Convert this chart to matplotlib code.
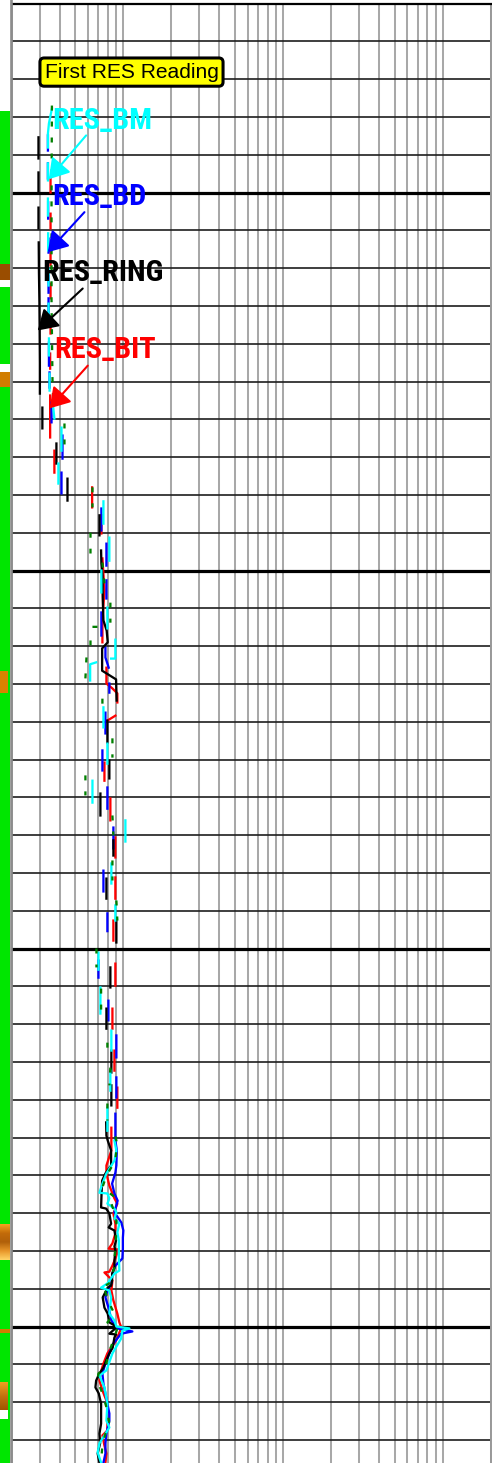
import numpy as np
import matplotlib
matplotlib.use("Agg")
import matplotlib.pyplot as plt
from matplotlib import font_manager
from matplotlib.colors import LinearSegmentedColormap
from matplotlib.lines import Line2D
from matplotlib.ticker import MultipleLocator, LogLocator, NullFormatter

nan = np.nan

# ---------------- depth window (ft) ----------------
TOP_DEPTH = 4950.0
BASE_DEPTH = 5336.1

# ---------------- resistivity curves (ohm.m) ----------------
ring_depth = [
    4985.4, 4991.0, nan, 4994.7, 5000.3, nan, 5004.0, 5009.5, nan,
    5013.2, 5021.2, 5029.1, 5037.0, 5045.0, 5053.2, nan,
    5056.9, 5062.4, nan, 5066.4, 5071.7, nan, 5075.7, 5081.5, nan, 5085.4, 5090.7, nan,
    5094.7, 5098.1, 5101.3, 5107.1, 5113.2, 5115.9, 5119.0, 5120.6, 5126.5, 5128.8, 5134.4, nan,
    5139.7, 5145.5, nan, 5150.3, 5155.0, nan, 5159.0, 5164.8, nan, 5171.4, 5175.4, nan,
    5181.5, 5186.8, nan, 5192.6, 5198.4, nan, 5205.0, 5210.3, nan, 5215.9, 5221.2, nan,
    5227.0, 5232.8, nan, 5236.2, 5241.5, nan,
    5246.0, 5249.5, 5250.8, 5253.4, 5257.4, 5259.5, 5261.4, 5264.8, 5268.5, 5268.8,
    5270.1, 5272.8, 5273.8, 5274.6, 5277.2, 5278.8, 5279.9, 5282.5, 5284.4, 5286.0,
    5287.8, 5289.2, 5289.7, 5290.5, 5292.3, 5295.0, 5296.6, 5298.9, 5299.7, 5300.5,
    5301.9, 5302.1, 5302.9, 5305.6, 5307.1, 5309.0, 5310.9, 5312.4, 5314.3, 5316.1,
    5317.7, 5320.4, 5323.0, 5325.7, 5328.3, 5330.9, 5333.6, 5336.0]
ring_val = [
    0.295, 0.295, nan, 0.295, 0.295, nan, 0.295, 0.295, nan,
    0.296, 0.297, 0.299, 0.300, 0.301, 0.301, nan,
    0.312, 0.312, nan, 0.382, 0.382, nan, 0.448, 0.448, nan, 0.710, 0.710, nan,
    0.727, 0.730, 0.741, 0.744, 0.752, 0.788, 0.800, 0.738, 0.738, 0.902, 0.910, nan,
    0.796, 0.796, nan, 0.819, 0.819, nan, 0.720, 0.720, nan, 0.868, 0.868, nan,
    0.785, 0.785, nan, 0.906, 0.906, nan, 0.831, 0.831, nan, 0.785, 0.785, nan,
    0.843, 0.843, nan, 0.843, 0.843, nan,
    0.782, 0.785, 0.800, 0.840, 0.840, 0.774, 0.738, 0.732, 0.727, 0.782,
    0.819, 0.840, 0.811, 0.881, 0.902, 0.881, 0.893, 0.881, 0.881, 0.852,
    0.852, 0.840, 0.800, 0.782, 0.744, 0.763, 0.800, 0.819, 0.881, 0.893,
    0.819, 0.902, 0.881, 0.859, 0.819, 0.782, 0.752, 0.710, 0.677, 0.670,
    0.703, 0.727, 0.727, 0.727, 0.710, 0.717, 0.692, 0.710]

bd_depth = [
    4984.9, 4988.9, nan, 4992.3, 4996.3, nan, 5002.6, 5006.9, nan, 5012.2, 5015.9, nan,
    5022.0, 5026.5, nan, 5028.0, 5034.7, nan, 5039.7, 5045.8, nan, 5047.6, 5051.6, nan,
    5055.6, 5060.8, nan, 5064.3, 5070.4, nan, 5074.1, 5079.6, nan, 5083.6, 5089.4, nan,
    5092.9, 5098.7, nan, 5102.6, 5107.4, nan, 5111.1, 5117.2, nan, 5120.4, 5123.0, 5125.7, nan,
    5129.9, 5132.3, nan, 5137.6, 5143.1, nan, 5147.6, 5152.9, nan, 5157.4, 5163.0, nan,
    5168.0, 5173.5, nan, 5179.4, 5184.9, nan, 5190.7, 5195.4, nan, 5203.2, 5207.7, nan,
    5213.8, 5219.0, nan, 5223.0, 5228.8, nan, 5234.1, 5239.4, nan,
    5243.7, 5250.0, 5250.8, 5253.4, 5257.4, 5259.3, 5262.2, 5264.8, 5266.7, 5269.8,
    5272.5, 5274.6, 5276.5, 5279.4, 5282.0, 5283.9, 5286.0, 5288.6, 5290.5, 5292.3,
    5295.8, 5298.4, 5300.5, 5301.3, 5301.9, 5304.5, 5307.1, 5309.8, 5312.4, 5315.1,
    5317.7, 5320.4, 5323.0, 5324.9, 5328.3, 5330.9, 5333.6, 5336.0]
bd_val = [
    0.338, 0.338, nan, 0.338, 0.338, nan, 0.339, 0.339, nan, 0.341, 0.341, nan,
    0.341, 0.341, nan, 0.341, 0.341, nan, 0.343, 0.343, nan, 0.346, 0.346, nan,
    0.356, 0.356, nan, 0.417, 0.417, nan, 0.411, 0.411, nan, 0.730, 0.730, nan,
    0.785, 0.785, nan, 0.785, 0.785, nan, 0.730, 0.730, nan, 0.774, 0.774, 0.811, nan,
    0.819, 0.819, nan, 0.774, 0.774, nan, 0.741, 0.741, nan, 0.796, 0.796, nan,
    0.868, 0.868, nan, 0.752, 0.752, nan, 0.796, 0.796, nan, 0.700, 0.700, nan,
    0.808, 0.808, nan, 0.906, 0.906, nan, 0.906, 0.906, nan,
    0.893, 0.893, 0.893, 0.912, 0.906, 0.893, 0.852, 0.881, 0.923, 0.881,
    0.974, 1.002, 0.995, 0.995, 0.988, 0.893, 0.856, 0.843, 0.796, 0.774,
    0.819, 0.843, 0.919, 1.141, 0.970, 0.868, 0.819, 0.774, 0.741, 0.752,
    0.774, 0.796, 0.819, 0.819, 0.785, 0.774, 0.774, 0.752]

bit_depth = [
    4996.3, 5000.0, nan, 5005.6, 5009.5, nan, 5014.8, 5019.3, nan, 5024.1, 5028.0, nan,
    5033.3, 5037.3, nan, 5042.6, 5046.6, nan, 5053.7, 5064.8, nan, 5068.3, 5074.1, nan,
    5078.0, 5083.3, nan, 5085.4, 5090.2, nan, 5096.8, 5105.3, 5113.2, 5119.0, nan,
    5125.7, 5129.9, 5131.2, 5132.5, 5134.9, nan, 5138.4, 5139.7, nan,
    5150.8, 5155.6, nan, 5160.3, 5166.1, nan, 5170.6, 5175.9, nan, 5181.2, 5186.8, nan,
    5192.6, 5197.9, nan, 5204.0, 5209.8, nan, 5215.9, 5221.2, nan, 5227.0, 5232.3, nan,
    5236.8, 5242.1, nan,
    5247.4, 5250.8, 5253.4, 5257.4, 5259.5, 5262.7, 5266.1, 5267.5, 5270.1, 5272.8,
    5275.4, 5278.0, 5279.4, 5279.6, 5282.0, 5283.9, 5285.5, 5285.7, 5287.8, 5290.5,
    5293.1, 5296.6, 5298.9, 5300.3, 5303.7, 5307.1, 5309.8, 5312.4, 5314.3, 5316.9,
    5319.6, 5322.2, 5324.9, 5327.5, 5328.8, 5331.5, 5333.6, 5336.0]
bit_val = [
    0.351, 0.351, nan, 0.351, 0.351, nan, 0.351, 0.351, nan, 0.351, 0.351, nan,
    0.351, 0.351, nan, 0.349, 0.349, nan, 0.349, 0.349, nan, 0.371, 0.371, nan,
    0.639, 0.639, nan, 0.730, 0.730, nan, 0.741, 0.763, 0.741, 0.741, nan,
    0.785, 0.785, 0.856, 0.919, 0.919, nan, 0.893, 0.796, nan,
    0.763, 0.763, nan, 0.831, 0.831, nan, 0.893, 0.893, nan, 0.893, 0.893, nan,
    0.868, 0.868, nan, 0.893, 0.893, nan, 0.856, 0.856, nan, 0.881, 0.881, nan,
    0.919, 0.919, nan,
    0.843, 0.843, 0.843, 0.785, 0.785, 0.819, 0.881, 0.919, 0.868, 0.893,
    0.893, 0.856, 0.811, 0.933, 0.893, 0.856, 0.819, 0.763, 0.856, 0.843,
    0.868, 0.919, 0.946, 0.974, 0.902, 0.796, 0.752, 0.720, 0.710, 0.741,
    0.785, 0.796, 0.796, 0.796, 0.741, 0.763, 0.785, 0.774]

bm_depth = [
    4977.8, 4979.6, 4981.7, 4984.4, 4988.1, nan,
    4992.3, 4996.8, nan, 5001.6, 5006.1, nan, 5010.8, 5015.3, nan, 5020.1, 5024.6, nan,
    5029.4, 5033.9, nan, 5038.6, 5043.1, nan, 5047.9, 5052.4, nan, 5055.0, 5059.8, nan,
    5062.2, 5068.3, nan, 5071.7, 5077.0, nan, 5081.7, 5087.6, nan, 5091.3, 5097.4, nan,
    5100.0, 5105.8, nan, 5109.8, 5115.3, nan, 5118.3, 5123.3, 5123.3, nan,
    5124.3, 5124.8, 5129.1, nan, 5136.2, 5141.5, nan, 5145.8, 5151.1, nan,
    5155.6, 5161.4, nan, 5166.1, 5171.7, nan, 5177.5, 5182.8, nan, 5188.6, 5192.6, nan,
    5201.1, 5205.6, nan, 5210.3, 5217.2, nan, 5221.7, 5227.0, nan, 5232.3, 5237.6, nan,
    5242.1, 5248.2, nan,
    5250.8, 5253.4, 5256.1, 5259.5, 5262.2, 5264.6, 5264.8, 5266.1, 5267.5, 5268.8,
    5269.8, 5271.4, 5272.8, 5275.1, 5277.2, 5281.2, 5285.2, 5286.0, 5288.6, 5289.7,
    5290.5, 5292.3, 5296.6, 5298.4, 5300.0, 5300.5, 5301.1, 5303.2, 5307.1, 5311.6,
    5313.0, 5316.1, 5320.4, 5324.9, 5326.7, 5330.9, 5333.3, 5336.0]
bm_val = [
    0.358, 0.351, 0.343, 0.338, 0.338, nan,
    0.338, 0.338, nan, 0.338, 0.338, nan, 0.339, 0.339, nan, 0.341, 0.341, nan,
    0.341, 0.341, nan, 0.343, 0.343, nan, 0.346, 0.346, nan, 0.361, 0.371, nan,
    0.411, 0.411, nan, 0.393, 0.393, nan, 0.752, 0.752, nan, 0.819, 0.819, nan,
    0.730, 0.730, nan, 0.796, 0.796, nan, 0.893, 0.893, 0.840, nan,
    0.677, 0.621, 0.621, nan, 0.752, 0.752, nan, 0.796, 0.796, nan,
    0.642, 0.642, nan, 1.032, 1.032, nan, 0.843, 0.843, nan, 0.893, 0.893, nan,
    0.700, 0.700, nan, 0.720, 0.720, nan, 0.843, 0.843, nan, 0.831, 0.831, nan,
    0.796, 0.796, nan,
    0.881, 0.906, 0.881, 0.785, 0.741, 0.710, 0.796, 0.819, 0.796, 0.881,
    0.906, 0.881, 0.946, 0.919, 0.939, 0.939, 0.946, 0.881, 0.796, 0.727,
    0.819, 0.840, 0.819, 0.881, 0.906, 1.093, 0.988, 0.970, 0.856, 0.785,
    0.710, 0.763, 0.796, 0.785, 0.819, 0.710, 0.692, 0.727]

ext_depth = [
    4977.0, 5002.1, 5028.6, 5049.7, 5056.9, nan,
    5061.1, 5068.3, nan, 5078.0, 5083.3, nan, 5090.0, 5095.5, nan, 5097.9, 5103.4, nan,
    5108.5, 5113.8, nan, 5114.9, 5114.9, nan, 5118.5, 5119.8, nan, 5123.0, 5128.6, nan,
    5133.9, 5135.4, nan, 5144.4, 5149.5, nan, 5154.2, 5159.5, nan, 5164.8, 5170.1, nan,
    5176.7, 5182.0, nan, 5187.3, 5192.6, nan, 5200.0, 5205.0, nan, 5210.6, 5217.2, nan,
    5224.9, 5227.0, nan, 5231.5, 5236.2, nan, 5241.0, 5245.5, nan,
    5249.7, 5250.8, 5253.4, 5256.1, 5260.1, 5263.2, 5266.1, 5267.5, 5269.8, 5271.2,
    5274.6, 5278.6, 5282.5, 5284.4, 5286.0, 5288.6, 5289.7, 5290.2, 5293.1, 5295.0,
    5296.6, 5298.9, 5300.3, 5300.5, 5303.7, 5307.1, 5310.9, 5312.4, 5314.3, 5317.7,
    5322.2, 5325.7, 5328.3, 5331.5, 5334.7, 5336.0]
ext_val = [
    0.358, 0.356, 0.356, 0.361, 0.366, nan,
    0.429, 0.429, nan, 0.642, 0.642, nan, 0.624, 0.624, nan, 0.741, 0.763, nan,
    0.831, 0.831, nan, 0.642, 0.690, nan, 0.624, 0.624, nan, 0.589, 0.580, nan,
    0.741, 0.741, nan, 0.856, 0.856, nan, 0.580, 0.580, nan, 0.856, 0.868, nan,
    0.856, 0.856, nan, 0.906, 0.919, nan, 0.680, 0.680, nan, 0.727, 0.727, nan,
    0.796, 0.796, nan, 0.831, 0.819, nan, 0.796, 0.796, nan,
    0.893, 0.906, 0.906, 0.893, 0.785, 0.741, 0.906, 0.843, 0.881, 0.906,
    0.906, 0.893, 0.881, 0.881, 0.856, 0.819, 0.727, 0.763, 0.808, 0.843,
    0.881, 0.796, 0.881, 0.919, 0.868, 0.808, 0.774, 0.700, 0.690, 0.741,
    0.796, 0.819, 0.774, 0.741, 0.730, 0.730]

# ---------------- activity strip (left) ----------------
strip_start = 4978.4
strip_top = [5018.9, 5023.1, 5045.4, 5047.5, 5126.6, 5272.9, 5300.7, 5314.9, 5322.1]
strip_base = [5023.1, 5025.0, 5047.5, 5051.5, 5132.4, 5282.4, 5301.7, 5322.1, 5324.5]
strip_code = ["brown", "gap", "gap", "orange", "orange_half", "shade_a", "orange", "shade_b", "gap_half"]

# ---------------- styling ----------------
plt.rcParams["lines.scale_dashes"] = False


def label_font():
    """Pick a condensed sans face for the curve labels."""
    entries = font_manager.fontManager.ttflist
    names = {f.name for f in entries}
    if "Liberation Sans Narrow" in names:
        return dict(family="Liberation Sans Narrow", size=20.9, weight="bold")
    if "Roboto Condensed" in names:
        return dict(family="Roboto Condensed", size=21.8, weight="bold")
    if any(f.name == "DejaVu Sans" and f.stretch == "condensed" for f in entries):
        return dict(family="DejaVu Sans", stretch="condensed", size=20.0, weight="bold")
    return dict(family="Lato", size=20.6, weight="bold")


LABEL_FONT = label_font()

W, H = 492.0, 1463.0
top_px = 3.5
fig = plt.figure(figsize=(W / 100, H / 100), dpi=100)
fig.patch.set_facecolor("white")

# ---- main resistivity track ----
ax = fig.add_axes([11.5 / W, 0.0, (491.0 - 11.5) / W, (H - top_px) / H])
ax.set_xscale("log")
ax.xaxis.set_major_locator(LogLocator(base=10))
ax.xaxis.set_minor_locator(LogLocator(base=10, subs=np.arange(2, 10)))
ax.xaxis.set_minor_formatter(NullFormatter())
ax.yaxis.set_major_locator(MultipleLocator(100))
ax.yaxis.set_minor_locator(MultipleLocator(10))
ax.grid(True, which="both", axis="x", color="#A8A8A8", lw=1.45, zorder=0.5)
ax.grid(True, which="minor", axis="y", color="#1E1E1E", lw=1.2, zorder=0.6)
ax.grid(True, which="major", axis="y", color="black", lw=2.3, zorder=0.6)
ax.set_axisbelow(True)
ax.tick_params(which="both", length=0, labelbottom=False, labelleft=False)
ax.spines["top"].set_color("black")
ax.spines["top"].set_linewidth(1.6)
ax.spines["right"].set_color("#999999")
ax.spines["right"].set_linewidth(1.4)
ax.spines["left"].set_visible(False)
ax.spines["bottom"].set_visible(False)

lw = 1.65
ax.plot(bit_val, bit_depth, color="#FF0000", lw=lw, zorder=3)
ax.plot(bd_val, bd_depth, color="#0000FF", lw=lw, zorder=3.1)
ax.plot(ring_val, ring_depth, color="black", lw=lw, zorder=3.2)
ax.plot(bm_val, bm_depth, color="#00FFFF", lw=lw, zorder=3.3)
ax.plot(ext_val, ext_depth, color="#008000", lw=lw, ls=(0, (3.6, 7.9)), zorder=3.4)

ax.set_xlim(0.2, 200)
ax.set_ylim(BASE_DEPTH, TOP_DEPTH)

# ---- annotations ----
ax.text(0.322, 4969.6, "First RES Reading", fontsize=15.1, family="Liberation Sans",
        ha="left", va="baseline", zorder=6,
        bbox=dict(boxstyle="round,pad=0.22,rounding_size=0.2", fc="#FFFF00", ec="black", lw=2.2))

labels = [
    ("RES_BM", "#00FFFF", (0.361, 4983.1), (0.586, 4984.9), (0.342, 4996.5)),
    ("RES_BD", "#0000FF", (0.361, 5003.4), (0.572, 5005.2), (0.337, 5015.8)),
    ("RES_RING", "black", (0.312, 5023.5), (0.558, 5025.4), (0.292, 5036.5)),
    ("RES_BIT", "#FF0000", (0.371, 5043.9), (0.600, 5045.8), (0.346, 5057.1)),
]
for text, color, txy, tail, tip in labels:
    ax.text(txy[0], txy[1], text, color=color, ha="left", va="baseline", zorder=6,
            fontproperties=font_manager.FontProperties(**LABEL_FONT))
    ax.annotate("", xy=tip, xytext=tail, zorder=6,
                arrowprops=dict(arrowstyle="-|>,head_length=0.4,head_width=0.25",
                                mutation_scale=30, color=color, lw=1.5,
                                shrinkA=0, shrinkB=0))

# ---- activity strip ----
axs = fig.add_axes([0.0, 0.0, 10.0 / W, (H - top_px) / H])
axs.axis("off")
axs.axhspan(strip_start, BASE_DEPTH, color="#00E600", lw=0, zorder=1)
solid_colors = {"brown": "#9A4D00", "orange": "#D17C00", "orange_half": "#D98300",
                "gap": "white", "gap_half": "white"}
shades = {"shade_a": ["#F5A21E", "#C26B0A", "#B0600A", "#E8962A", "#FFD466"],
          "shade_b": ["#F0A020", "#C47210", "#9E5600"]}
for top, base, code in zip(strip_top, strip_base, strip_code):
    width = 0.8 if code.endswith("half") or code == "shade_b" else 1.0
    if code in solid_colors:
        axs.axhspan(top, base, xmin=0, xmax=width, color=solid_colors[code], lw=0, zorder=2)
    else:
        cmap = LinearSegmentedColormap.from_list(code, shades[code])
        grad = np.linspace(0, 1, 64).reshape(-1, 1)
        axs.imshow(grad, cmap=cmap, aspect="auto", extent=(0, width, base, top),
                   origin="upper", zorder=2, interpolation="bilinear")
axs.set_xlim(0, 1)
axs.set_ylim(BASE_DEPTH, TOP_DEPTH)

# separator between strip and track
fig.add_artist(Line2D([11.3 / W, 11.3 / W], [0, 1], transform=fig.transFigure,
                      color="#8C8C8C", lw=1.9))

fig.savefig("out.png", dpi=100)
